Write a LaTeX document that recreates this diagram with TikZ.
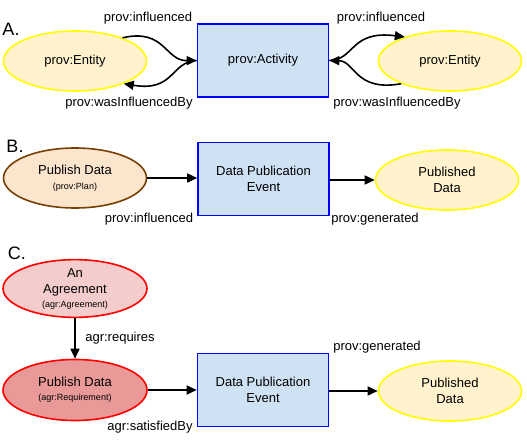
\documentclass[tikz,border=0pt]{standalone}
\usepackage{fontspec}
\setmainfont{Liberation Sans}
\usetikzlibrary{shapes.geometric,arrows.meta}
\definecolor{entfill}{HTML}{FFF2CC}
\definecolor{entdraw}{HTML}{FFFF00}
\definecolor{actfill}{HTML}{CFE2F3}
\definecolor{actdraw}{HTML}{0000FF}
\definecolor{planfill}{HTML}{FCE5CD}
\definecolor{plandraw}{HTML}{783F04}
\definecolor{agrfill}{HTML}{F4CCCC}
\definecolor{reqfill}{HTML}{EA9999}
\definecolor{reddraw}{HTML}{FF0000}
\tikzset{
  base/.style={font=\fontsize{13}{16}\selectfont, align=center, inner sep=0pt, line width=1.6pt},
  entity/.style={base, ellipse, draw=entdraw, fill=entfill, minimum width=143pt, minimum height=60pt},
  plan/.style={base, ellipse, draw=plandraw, fill=planfill, minimum width=143pt, minimum height=60pt},
  agree/.style={base, ellipse, draw=reddraw, fill=agrfill, minimum width=144pt, minimum height=53pt},
  req/.style={base, ellipse, draw=reddraw, fill=reqfill, minimum width=144pt, minimum height=61pt},
  activity/.style={base, rectangle, draw=actdraw, fill=actfill, minimum width=131pt, minimum height=73pt},
  lbl/.style={font=\fontsize{13}{15}\selectfont, inner sep=0pt},
  panel/.style={font=\fontsize{18}{20}\selectfont, inner sep=0pt},
  arr/.style={line width=1.6pt, -{Triangle[length=10pt,width=9pt]}},
}
\newcommand{\smalltxt}[1]{{\fontsize{9}{10}\selectfont #1}}
\begin{document}
\begin{tikzpicture}[x=1pt,y=-1pt]
\useasboundingbox (0,0) rectangle (527,442);
% Panel A
\node[panel] (A) at (11,29) {A.};
\node[entity] (aL) at (75,61) {prov:Entity};
\node[activity] (aA) at (263,60.5) {prov:Activity};
\node[entity] (aR) at (450,61) {prov:Entity};
\draw[arr] (aL.26) .. controls (165,28) and (165,61) .. (aA.west);
\draw[arr] (aA.west) .. controls (170,62) and (175,92) .. (aL.-25);
\draw[arr] (aA.east) .. controls (355,60) and (350,30) .. (aR.152);
\draw[arr] (aR.205) .. controls (355,92) and (355,61) .. (aA.east);
\node[lbl] (a1) at (148,18) {prov:influenced};
\node[lbl] (a2) at (129,103) {prov:wasInfluencedBy};
\node[lbl] (a3) at (381,18) {prov:influenced};
\node[lbl] (a4) at (397,103) {prov:wasInfluencedBy};
% Panel B
\node[panel] (B) at (15,146) {B.};
\node[plan] (bP) at (75,178) {Publish Data\\[-1pt]\smalltxt{(prov:Plan)}};
\node[activity] (bA) at (263.5,179) {Data Publication\\Event};
\node[entity] (bE) at (447,180) {Published\\Data};
\draw[arr] (bP.east) -- (bP.east -| bA.west);
\draw[arr] (bA.east |- bE.west) -- (bE.west);
\node[lbl] (b1) at (149,219) {prov:influenced};
\node[lbl] (b2) at (375,219) {prov:generated};
% Panel C
\node[panel] (C) at (17,253) {C.};
\node[agree] (cG) at (75,288.5) {An\\Agreement\\[-2pt]\smalltxt{(agr:Agreement)}};
\node[req] (cR) at (75,390) {Publish Data\\[-2pt]\smalltxt{(agr:Requirement)}};
\node[activity] (cA) at (263,390) {Data Publication\\Event};
\node[entity] (cE) at (450,391) {Published\\Data};
\draw[arr] (cG.south) -- (cR.north);
\draw[arr] (cR.east) -- (cR.east -| cA.west);
\draw[arr] (cA.east |- cE.west) -- (cE.west);
\node[lbl] (c1) at (120,338) {agr:requires};
\node[lbl] (c2) at (150,427) {agr:satisfiedBy};
\node[lbl] (c3) at (377,347) {prov:generated};
\end{tikzpicture}
\end{document}
